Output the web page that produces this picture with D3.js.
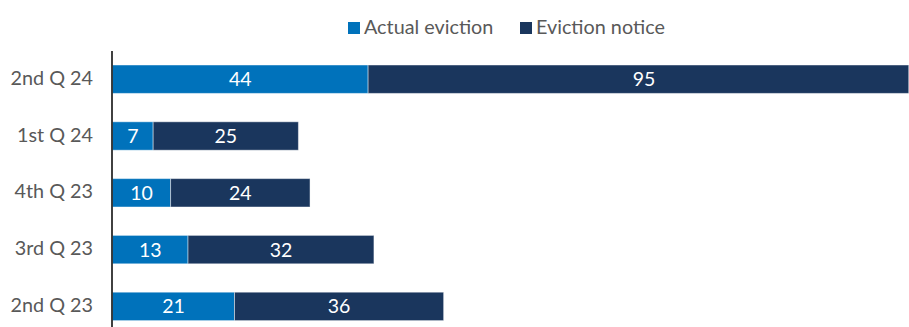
<!DOCTYPE html>
<html>
<head>
<meta charset="utf-8">
<script src="https://cdn.jsdelivr.net/npm/d3@7"></script>
<style>
  html, body { margin: 0; padding: 0; background: #fff; }
  svg { display: block; font-family: Lato, "Open Sans", sans-serif; }
</style>
</head>
<body>
<svg id="chart" width="909" height="327"></svg>
<script>
// Quarterly eviction counts, newest quarter first
const quarters = ["2nd Q 24", "1st Q 24", "4th Q 23", "3rd Q 23", "2nd Q 23"];
const actualEviction = [44, 7, 10, 13, 21];
const evictionNotice = [95, 25, 24, 32, 36];
const seriesNames = ["Actual eviction", "Eviction notice"];
const seriesColors = ["#0072bb", "#1a365d"];

const width = 909, height = 327;
const svg = d3.select("#chart");

const rows = quarters.map((q, i) => ({
  quarter: q,
  values: [actualEviction[i], evictionNotice[i]]
}));

const x = d3.scaleLinear().domain([0, 139]).range([112.5, 920]);
const y = d3.scaleBand().domain(quarters).range([50.8, 334.8])
  .paddingInner(0.5).paddingOuter(0.25);

// plot area clip: the longest bar runs past the right edge
svg.append("defs").append("clipPath").attr("id", "plot-clip")
  .append("rect").attr("x", 112).attr("y", 0).attr("width", 796.5).attr("height", height);

const plot = svg.append("g").attr("clip-path", "url(#plot-clip)");

rows.forEach(r => {
  let acc = 0;
  const mid = y(r.quarter) + y.bandwidth() / 2;
  r.values.forEach((v, si) => {
    const x0 = x(acc), x1 = x(acc + v);
    acc += v;
    plot.append("rect")
      .attr("x", x0).attr("y", y(r.quarter))
      .attr("width", x1 - x0).attr("height", y.bandwidth())
      .attr("fill", seriesColors[si])
      .attr("stroke", "#ffffff").attr("stroke-opacity", 0.45).attr("stroke-width", 1);
    plot.append("text")
      .attr("x", (x0 + x1) / 2).attr("y", mid + 7)
      .attr("text-anchor", "middle")
      .attr("fill", "#ffffff").attr("font-size", 19.5)
      .text(v);
  });
});

// category axis
const yAxis = svg.append("g");
yAxis.append("line")
  .attr("x1", 112).attr("x2", 112).attr("y1", 51).attr("y2", height)
  .attr("stroke", "#111").attr("stroke-width", 1.6);
yAxis.selectAll("text.cat").data(quarters).join("text")
  .attr("class", "cat")
  .attr("x", 93).attr("y", d => y(d) + y.bandwidth() / 2 + 5.5)
  .attr("text-anchor", "end")
  .attr("fill", "#595959").attr("font-size", 19.8)
  .text(d => d);

// legend
const legendX = [348, 520];
const legend = svg.append("g");
seriesNames.forEach((name, i) => {
  legend.append("rect")
    .attr("x", legendX[i]).attr("y", 22).attr("width", 12).attr("height", 12)
    .attr("fill", seriesColors[i]);
  legend.append("text")
    .attr("x", legendX[i] + 16).attr("y", 33.5)
    .attr("fill", "#595959").attr("font-size", 19.8)
    .text(name);
});
</script>
</body>
</html>
